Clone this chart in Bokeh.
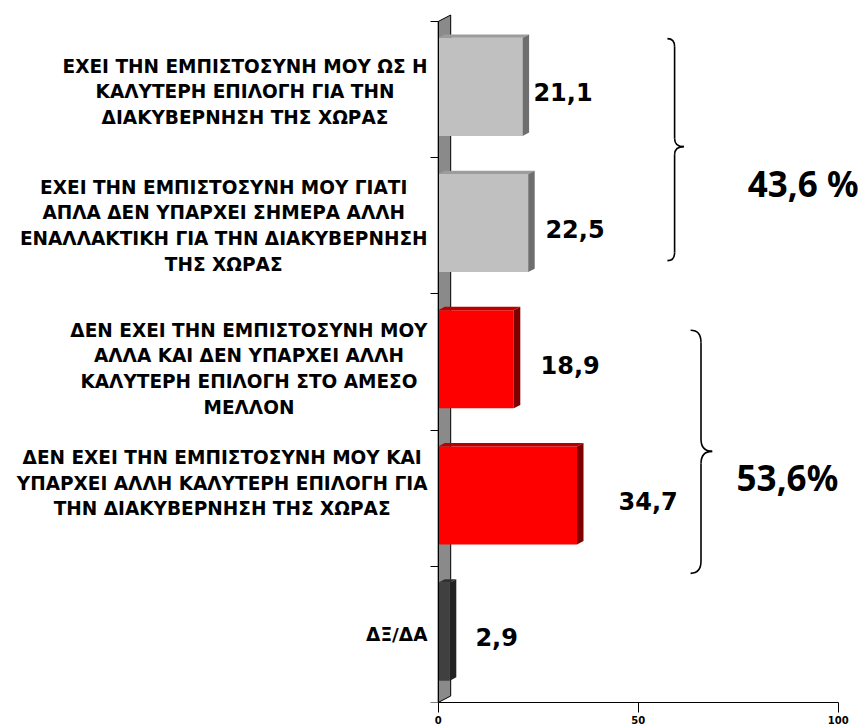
from bokeh.plotting import figure
from bokeh.models import Range1d, LinearAxis, FixedTicker
from bokeh.core.properties import value
from bokeh.embed import file_html
from bokeh.resources import INLINE

# ---------------- data ----------------
categories = [
    "ΕΧΕΙ ΤΗΝ ΕΜΠΙΣΤΟΣΥΝΗ ΜΟΥ ΩΣ Η\nΚΑΛΥΤΕΡΗ ΕΠΙΛΟΓΗ ΓΙΑ ΤΗΝ\nΔΙΑΚΥΒΕΡΝΗΣΗ ΤΗΣ ΧΩΡΑΣ",
    "ΕΧΕΙ ΤΗΝ ΕΜΠΙΣΤΟΣΥΝΗ ΜΟΥ ΓΙΑΤΙ\nΑΠΛΑ ΔΕΝ ΥΠΑΡΧΕΙ ΣΗΜΕΡΑ ΑΛΛΗ\nΕΝΑΛΛΑΚΤΙΚΗ ΓΙΑ ΤΗΝ ΔΙΑΚΥΒΕΡΝΗΣΗ\nΤΗΣ ΧΩΡΑΣ",
    "ΔΕΝ ΕΧΕΙ ΤΗΝ ΕΜΠΙΣΤΟΣΥΝΗ ΜΟΥ\nΑΛΛΑ ΚΑΙ ΔΕΝ ΥΠΑΡΧΕΙ ΑΛΛΗ\nΚΑΛΥΤΕΡΗ ΕΠΙΛΟΓΗ ΣΤΟ ΑΜΕΣΟ\nΜΕΛΛΟΝ",
    "ΔΕΝ ΕΧΕΙ ΤΗΝ ΕΜΠΙΣΤΟΣΥΝΗ ΜΟΥ ΚΑΙ\nΥΠΑΡΧΕΙ ΑΛΛΗ ΚΑΛΥΤΕΡΗ ΕΠΙΛΟΓΗ ΓΙΑ\nΤΗΝ ΔΙΑΚΥΒΕΡΝΗΣΗ ΤΗΣ ΧΩΡΑΣ",
    "ΔΞ/ΔΑ",
]
values = [21.1, 22.5, 18.9, 34.7, 2.9]
value_labels = ["21,1", "22,5", "18,9", "34,7", "2,9"]
x_ticks = [0, 50, 100]
group_members = [[0, 1], [2, 3]]
group_labels = ["43,6 %", "53,6%"]

# ---------------- styles / layout ----------------
front_colors = ["#C0C0C0", "#C0C0C0", "#FF0000", "#FF0000", "#404040"]
side_colors = ["#6E6E6E", "#6E6E6E", "#800000", "#800000", "#222222"]
top_colors = ["#9C9C9C", "#9C9C9C", "#B80000", "#B80000", "#303030"]
label_gaps = [2.7, 4.3, 6.7, 10.4, 6.4]          # value-label offsets (x units)
cat_label_dy = [-0.015, 0.0, -0.05, 0.11, 0.0]   # category-label vertical nudges
group_label_pos = [(77.4, 3.307), (74.6, 1.152)]  # (x, y) of group totals
brace_x = [(57.3, 59.1, 61.4, 0.06), (63.1, 65.7, 68.5, 0.09)]  # ends, stem, tip, curl
brace_y = [(4.374, 2.744, 3.581), (2.233, 0.448, 1.344)]        # top, bottom, tip

FIG_W, FIG_H = 866, 728
BORDER_L, BORDER_T, BORDER_B = 10, 8, 26
PX = 4.0          # pixels per x unit
ZERO = 437.7      # page x of value 0
frame_left = BORDER_L
frame_w = FIG_W - BORDER_L
x_start = -(ZERO - frame_left) / PX
x_end = x_start + frame_w / PX
frame_top = BORDER_T
frame_bottom = FIG_H - BORDER_B
py = (frame_bottom - 21) / 5.0
y_start = -0.5
y_end = 4.5 + (21 - frame_top) / py

n = len(values)
ypos = [n - 1 - i for i in range(n)]

BAR_H = 0.72
BAR_SHIFT = 0.02
DX = 6.5 / PX
DY = 3.4 / py

p = figure(width=FIG_W, height=FIG_H, output_backend="svg", toolbar_location=None,
           x_range=Range1d(x_start, x_end), y_range=Range1d(y_start, y_end),
           x_axis_location=None, y_axis_location=None,
           min_border_left=BORDER_L, min_border_right=0,
           min_border_top=BORDER_T, min_border_bottom=BORDER_B)
p.grid.visible = False
p.outline_line_color = None
p.background_fill_color = "white"

# back wall (3D)
WDX = 12.5 / PX
WDY = 6.5 / py
p.patch([0, WDX, WDX, 0], [-0.5, -0.5 + WDY, 4.5 + WDY, 4.5],
        fill_color="#8A8A8A", line_color="black", line_width=1)

# bars: front faces
yc = [y + BAR_SHIFT for y in ypos]
p.hbar(y=yc, left=0, right=values, height=BAR_H, fill_color=front_colors, line_color=None)

# top and side faces
top_xs, top_ys, side_xs, side_ys = [], [], [], []
for v, y in zip(values, yc):
    yt, yb = y + BAR_H / 2, y - BAR_H / 2
    top_xs.append([0, v, v + DX, DX])
    top_ys.append([yt, yt, yt + DY, yt + DY])
    side_xs.append([v, v, v + DX, v + DX])
    side_ys.append([yb, yt, yt + DY, yb + DY])
p.patches(top_xs, top_ys, fill_color=top_colors, line_color=None)
p.patches(side_xs, side_ys, fill_color=side_colors, line_color=None)

# value labels
p.text(x=[v + g for v, g in zip(values, label_gaps)], y=[y - 0.02 for y in ypos],
       text=value_labels, text_font=value("DejaVu Sans"), text_font_style="bold",
       text_font_size="24px", text_baseline="middle", text_align="left", text_color="black")

# category labels
label_x = (427 - ZERO) / PX
p.text(x=[label_x] * n, y=[y + d for y, d in zip(ypos, cat_label_dy)], text=categories,
       anchor="center_right", text_align="center", text_baseline="middle",
       text_line_height=1.22, text_font=value("DejaVu Sans"), text_font_style="bold",
       text_font_size="18.5px", text_color="black")

# braces
for (xe, xv, xt, r), (yt, yb, ym) in zip(brace_x, brace_y):
    p.quadratic(x0=[xe, xv, xt, xv], y0=[yt, ym + r, ym, yb + r],
                x1=[xv, xt, xv, xe], y1=[yt - r, ym, ym - r, yb],
                cx=[xv, xv, xv, xv], cy=[yt, ym, ym, yb],
                line_color="black", line_width=1.6)
    p.segment(x0=[xv, xv], y0=[yt - r, ym - r], x1=[xv, xv], y1=[ym + r, yb + r],
              line_color="black", line_width=1.6)

# group totals
p.text(x=[gp[0] for gp in group_label_pos], y=[gp[1] for gp in group_label_pos],
       text=group_labels, text_font=value("Noto Sans"), text_font_style="bold",
       text_font_size="35px", text_baseline="middle", text_align="left", text_color="black")

# axes
xaxis = LinearAxis(ticker=FixedTicker(ticks=x_ticks), bounds=(0, 100))
xaxis.axis_line_color = "black"
xaxis.major_tick_out = 10
xaxis.major_tick_in = 0
xaxis.minor_tick_out = 0
xaxis.minor_tick_in = 0
xaxis.major_label_standoff = 3
xaxis.major_label_text_font = "DejaVu Sans"
xaxis.major_label_text_font_style = "bold"
xaxis.major_label_text_font_size = "10px"
xaxis.major_label_text_color = "black"
p.add_layout(xaxis, "below")

y_bounds = [i - 0.5 for i in range(n + 1)]
yaxis = LinearAxis(ticker=FixedTicker(ticks=y_bounds),
                   bounds=(-0.5, 4.5), fixed_location=0)
yaxis.axis_line_color = "black"
yaxis.major_tick_out = 8
yaxis.major_tick_in = 0
yaxis.minor_tick_out = 0
yaxis.minor_tick_in = 0
yaxis.major_label_overrides = {t: "" for t in y_bounds}
yaxis.major_label_standoff = 0
p.add_layout(yaxis, "left")

open("out.html", "w").write(file_html(p, INLINE))
